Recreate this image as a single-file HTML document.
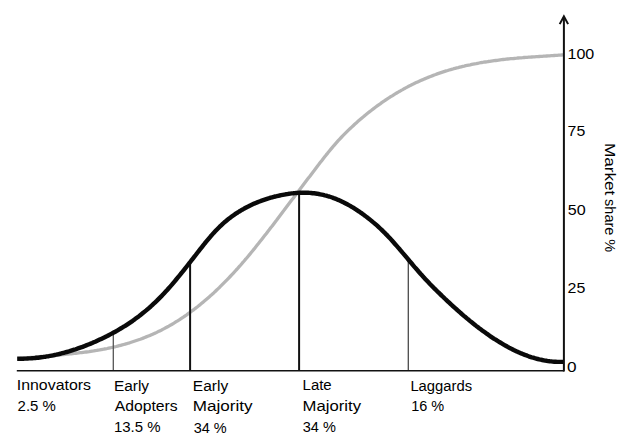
<!DOCTYPE html>
<html><head><meta charset="utf-8"><style>
html,body{margin:0;padding:0;background:#fff;}
body{width:640px;height:447px;position:relative;overflow:hidden;}
svg{position:absolute;left:0;top:0;}
text{font-family:"Liberation Sans",sans-serif;font-size:15.5px;fill:#000;}
</style></head><body>
<svg width="640" height="447" viewBox="0 0 640 447">
<path d="M17.2,358.8 L18.7,358.6 L20.2,358.5 L21.7,358.3 L23.2,358.2 L24.7,358.0 L26.2,357.9 L27.7,357.7 L29.2,357.6 L30.7,357.4 L32.2,357.3 L33.7,357.2 L35.2,357.0 L36.7,356.9 L38.2,356.8 L39.7,356.6 L41.2,356.5 L42.7,356.4 L44.2,356.2 L45.7,356.1 L47.2,356.0 L48.7,355.9 L50.2,355.7 L51.7,355.6 L53.2,355.5 L54.7,355.3 L56.2,355.2 L57.7,355.1 L59.2,354.9 L60.7,354.8 L62.2,354.7 L63.7,354.5 L65.2,354.4 L66.7,354.2 L68.2,354.1 L69.7,353.9 L71.2,353.8 L72.7,353.6 L74.2,353.4 L75.7,353.3 L77.2,353.1 L78.7,352.9 L80.2,352.7 L81.7,352.6 L83.2,352.4 L84.7,352.2 L86.2,352.0 L87.7,351.8 L89.2,351.6 L90.7,351.3 L92.2,351.1 L93.7,350.9 L95.2,350.6 L96.7,350.4 L98.2,350.1 L99.7,349.9 L101.2,349.6 L102.7,349.3 L104.2,349.0 L105.7,348.8 L107.2,348.5 L108.7,348.1 L110.2,347.8 L111.7,347.5 L113.2,347.2 L114.7,346.8 L116.2,346.5 L117.7,346.1 L119.2,345.7 L120.7,345.3 L122.2,344.9 L123.7,344.5 L125.2,344.1 L126.7,343.7 L128.2,343.2 L129.7,342.8 L131.2,342.3 L132.7,341.8 L134.2,341.3 L135.7,340.8 L137.2,340.3 L138.7,339.8 L140.2,339.3 L141.7,338.7 L143.2,338.1 L144.7,337.5 L146.2,336.9 L147.7,336.3 L149.2,335.7 L150.7,335.1 L152.2,334.4 L153.7,333.7 L155.2,333.1 L156.7,332.4 L158.2,331.6 L159.7,330.9 L161.2,330.2 L162.7,329.4 L164.2,328.6 L165.7,327.8 L167.2,327.0 L168.7,326.2 L170.2,325.3 L171.7,324.5 L173.2,323.6 L174.7,322.7 L176.2,321.7 L177.7,320.8 L179.2,319.9 L180.7,318.9 L182.2,317.9 L183.7,316.9 L185.2,315.8 L186.7,314.8 L188.2,313.7 L189.7,312.7 L191.2,311.5 L192.7,310.4 L194.2,309.3 L195.7,308.1 L197.2,307.0 L198.7,305.8 L200.2,304.6 L201.7,303.3 L203.2,302.1 L204.7,300.8 L206.2,299.5 L207.7,298.2 L209.2,296.9 L210.7,295.6 L212.2,294.2 L213.7,292.9 L215.2,291.5 L216.7,290.0 L218.2,288.6 L219.7,287.2 L221.2,285.7 L222.7,284.2 L224.2,282.7 L225.7,281.2 L227.2,279.7 L228.7,278.1 L230.2,276.5 L231.7,274.9 L233.2,273.3 L234.7,271.7 L236.2,270.0 L237.7,268.4 L239.2,266.7 L240.7,265.0 L242.2,263.2 L243.7,261.5 L245.2,259.7 L246.7,258.0 L248.2,256.2 L249.7,254.4 L251.2,252.5 L252.7,250.7 L254.2,248.9 L255.7,247.0 L257.2,245.1 L258.7,243.2 L260.2,241.3 L261.7,239.4 L263.2,237.5 L264.7,235.6 L266.2,233.7 L267.7,231.7 L269.2,229.8 L270.7,227.8 L272.2,225.9 L273.7,223.9 L275.2,221.9 L276.7,220.0 L278.2,218.0 L279.7,216.0 L281.2,214.0 L282.7,212.0 L284.2,210.1 L285.7,208.1 L287.2,206.1 L288.7,204.1 L290.2,202.1 L291.7,200.1 L293.2,198.2 L294.7,196.2 L296.2,194.2 L297.7,192.2 L299.2,190.2 L300.7,188.2 L302.2,186.3 L303.7,184.3 L305.2,182.3 L306.7,180.3 L308.2,178.3 L309.7,176.4 L311.2,174.4 L312.7,172.4 L314.2,170.5 L315.7,168.5 L317.2,166.5 L318.7,164.6 L320.2,162.6 L321.7,160.7 L323.2,158.7 L324.7,156.8 L326.2,154.9 L327.7,153.1 L329.2,151.2 L330.7,149.4 L332.2,147.6 L333.7,145.8 L335.2,144.1 L336.7,142.4 L338.2,140.7 L339.7,139.1 L341.2,137.5 L342.7,135.9 L344.2,134.4 L345.7,132.9 L347.2,131.4 L348.7,129.9 L350.2,128.5 L351.7,127.1 L353.2,125.7 L354.7,124.3 L356.2,123.0 L357.7,121.6 L359.2,120.3 L360.7,119.0 L362.2,117.7 L363.7,116.5 L365.2,115.2 L366.7,114.0 L368.2,112.8 L369.7,111.6 L371.2,110.5 L372.7,109.3 L374.2,108.2 L375.7,107.0 L377.2,105.9 L378.7,104.8 L380.2,103.8 L381.7,102.7 L383.2,101.7 L384.7,100.7 L386.2,99.6 L387.7,98.6 L389.2,97.7 L390.7,96.7 L392.2,95.8 L393.7,94.8 L395.2,93.9 L396.7,93.0 L398.2,92.1 L399.7,91.3 L401.2,90.4 L402.7,89.6 L404.2,88.7 L405.7,87.9 L407.2,87.1 L408.7,86.3 L410.2,85.6 L411.7,84.8 L413.2,84.1 L414.7,83.3 L416.2,82.6 L417.7,81.9 L419.2,81.2 L420.7,80.5 L422.2,79.9 L423.7,79.2 L425.2,78.6 L426.7,78.0 L428.2,77.4 L429.7,76.8 L431.2,76.2 L432.7,75.6 L434.2,75.0 L435.7,74.5 L437.2,73.9 L438.7,73.4 L440.2,72.9 L441.7,72.4 L443.2,71.9 L444.7,71.4 L446.2,70.9 L447.7,70.5 L449.2,70.0 L450.7,69.6 L452.2,69.2 L453.7,68.7 L455.2,68.3 L456.7,67.9 L458.2,67.6 L459.7,67.2 L461.2,66.8 L462.7,66.4 L464.2,66.1 L465.7,65.7 L467.2,65.4 L468.7,65.1 L470.2,64.8 L471.7,64.4 L473.2,64.1 L474.7,63.8 L476.2,63.6 L477.7,63.3 L479.2,63.0 L480.7,62.7 L482.2,62.5 L483.7,62.2 L485.2,62.0 L486.7,61.8 L488.2,61.5 L489.7,61.3 L491.2,61.1 L492.7,60.9 L494.2,60.7 L495.7,60.5 L497.2,60.3 L498.7,60.1 L500.2,59.9 L501.7,59.7 L503.2,59.5 L504.7,59.4 L506.2,59.2 L507.7,59.0 L509.2,58.9 L510.7,58.7 L512.2,58.6 L513.7,58.5 L515.2,58.3 L516.7,58.2 L518.2,58.0 L519.7,57.9 L521.2,57.8 L522.7,57.7 L524.2,57.5 L525.7,57.4 L527.2,57.3 L528.7,57.2 L530.2,57.1 L531.7,57.0 L533.2,56.9 L534.7,56.8 L536.2,56.7 L537.7,56.6 L539.2,56.5 L540.7,56.4 L542.2,56.3 L543.7,56.2 L545.2,56.1 L546.7,56.0 L548.2,55.9 L549.7,55.8 L551.2,55.7 L552.7,55.6 L554.2,55.5 L555.7,55.4 L557.2,55.3 L558.7,55.2 L560.2,55.1 L561.7,55.0 L563.2,54.9 L563.6,54.9" fill="none" stroke="#b5b5b5" stroke-width="3.3" stroke-linejoin="round" stroke-linecap="butt"/>
<line x1="113.3" y1="332.7" x2="113.3" y2="370" stroke="#555" stroke-width="1.3"/>
<line x1="408.3" y1="259.5" x2="408.3" y2="370" stroke="#4a4a4a" stroke-width="1.3"/>
<line x1="190.1" y1="262.2" x2="190.1" y2="370" stroke="#111" stroke-width="2"/>
<line x1="299.1" y1="192.8" x2="299.1" y2="370" stroke="#111" stroke-width="2"/>
<path d="M17.2,358.7 L18.7,358.7 L20.2,358.7 L21.7,358.7 L23.2,358.7 L24.7,358.6 L26.2,358.6 L27.7,358.5 L29.2,358.4 L30.7,358.4 L32.2,358.2 L33.7,358.1 L35.2,358.0 L36.7,357.8 L38.2,357.7 L39.7,357.5 L41.2,357.3 L42.7,357.1 L44.2,356.9 L45.7,356.7 L47.2,356.4 L48.7,356.2 L50.2,355.9 L51.7,355.6 L53.2,355.3 L54.7,355.0 L56.2,354.7 L57.7,354.3 L59.2,354.0 L60.7,353.6 L62.2,353.2 L63.7,352.8 L65.2,352.4 L66.7,352.0 L68.2,351.6 L69.7,351.2 L71.2,350.7 L72.7,350.2 L74.2,349.7 L75.7,349.3 L77.2,348.7 L78.7,348.2 L80.2,347.7 L81.7,347.2 L83.2,346.6 L84.7,346.0 L86.2,345.4 L87.7,344.8 L89.2,344.2 L90.7,343.6 L92.2,343.0 L93.7,342.3 L95.2,341.7 L96.7,341.0 L98.2,340.3 L99.7,339.6 L101.2,338.9 L102.7,338.2 L104.2,337.5 L105.7,336.7 L107.2,336.0 L108.7,335.2 L110.2,334.4 L111.7,333.6 L113.2,332.8 L114.7,332.0 L116.2,331.2 L117.7,330.3 L119.2,329.4 L120.7,328.5 L122.2,327.6 L123.7,326.7 L125.2,325.8 L126.7,324.8 L128.2,323.8 L129.7,322.8 L131.2,321.8 L132.7,320.8 L134.2,319.7 L135.7,318.6 L137.2,317.5 L138.7,316.4 L140.2,315.2 L141.7,314.0 L143.2,312.8 L144.7,311.6 L146.2,310.4 L147.7,309.1 L149.2,307.8 L150.7,306.5 L152.2,305.1 L153.7,303.7 L155.2,302.3 L156.7,300.9 L158.2,299.4 L159.7,297.9 L161.2,296.4 L162.7,294.8 L164.2,293.2 L165.7,291.6 L167.2,290.0 L168.7,288.3 L170.2,286.6 L171.7,284.9 L173.2,283.1 L174.7,281.3 L176.2,279.5 L177.7,277.7 L179.2,275.9 L180.7,274.0 L182.2,272.2 L183.7,270.3 L185.2,268.4 L186.7,266.5 L188.2,264.6 L189.7,262.7 L191.2,260.7 L192.7,258.8 L194.2,256.9 L195.7,255.0 L197.2,253.0 L198.7,251.1 L200.2,249.2 L201.7,247.3 L203.2,245.4 L204.7,243.5 L206.2,241.7 L207.7,239.9 L209.2,238.1 L210.7,236.3 L212.2,234.6 L213.7,232.9 L215.2,231.3 L216.7,229.7 L218.2,228.2 L219.7,226.7 L221.2,225.3 L222.7,223.9 L224.2,222.5 L225.7,221.3 L227.2,220.0 L228.7,218.8 L230.2,217.7 L231.7,216.6 L233.2,215.5 L234.7,214.4 L236.2,213.4 L237.7,212.5 L239.2,211.5 L240.7,210.6 L242.2,209.7 L243.7,208.9 L245.2,208.0 L246.7,207.2 L248.2,206.5 L249.7,205.7 L251.2,205.0 L252.7,204.3 L254.2,203.6 L255.7,203.0 L257.2,202.4 L258.7,201.8 L260.2,201.2 L261.7,200.6 L263.2,200.1 L264.7,199.6 L266.2,199.1 L267.7,198.6 L269.2,198.2 L270.7,197.7 L272.2,197.3 L273.7,196.9 L275.2,196.5 L276.7,196.2 L278.2,195.8 L279.7,195.5 L281.2,195.2 L282.7,194.9 L284.2,194.6 L285.7,194.3 L287.2,194.1 L288.7,193.8 L290.2,193.6 L291.7,193.4 L293.2,193.3 L294.7,193.1 L296.2,193.0 L297.7,192.9 L299.2,192.8 L300.7,192.8 L302.2,192.7 L303.7,192.7 L305.2,192.7 L306.7,192.8 L308.2,192.8 L309.7,192.9 L311.2,193.0 L312.7,193.2 L314.2,193.3 L315.7,193.5 L317.2,193.7 L318.7,194.0 L320.2,194.3 L321.7,194.6 L323.2,194.9 L324.7,195.3 L326.2,195.6 L327.7,196.1 L329.2,196.5 L330.7,197.0 L332.2,197.5 L333.7,198.1 L335.2,198.6 L336.7,199.2 L338.2,199.9 L339.7,200.5 L341.2,201.2 L342.7,201.9 L344.2,202.7 L345.7,203.5 L347.2,204.3 L348.7,205.1 L350.2,205.9 L351.7,206.8 L353.2,207.7 L354.7,208.7 L356.2,209.6 L357.7,210.6 L359.2,211.6 L360.7,212.7 L362.2,213.7 L363.7,214.8 L365.2,215.9 L366.7,217.1 L368.2,218.2 L369.7,219.4 L371.2,220.6 L372.7,221.9 L374.2,223.1 L375.7,224.4 L377.2,225.7 L378.7,227.1 L380.2,228.5 L381.7,229.9 L383.2,231.4 L384.7,232.8 L386.2,234.4 L387.7,235.9 L389.2,237.5 L390.7,239.1 L392.2,240.8 L393.7,242.5 L395.2,244.2 L396.7,245.9 L398.2,247.6 L399.7,249.3 L401.2,251.1 L402.7,252.9 L404.2,254.6 L405.7,256.4 L407.2,258.2 L408.7,260.0 L410.2,261.8 L411.7,263.5 L413.2,265.3 L414.7,267.1 L416.2,268.8 L417.7,270.5 L419.2,272.3 L420.7,274.0 L422.2,275.6 L423.7,277.3 L425.2,278.9 L426.7,280.5 L428.2,282.1 L429.7,283.7 L431.2,285.2 L432.7,286.7 L434.2,288.3 L435.7,289.7 L437.2,291.2 L438.7,292.7 L440.2,294.1 L441.7,295.6 L443.2,297.0 L444.7,298.5 L446.2,299.9 L447.7,301.3 L449.2,302.7 L450.7,304.1 L452.2,305.5 L453.7,306.8 L455.2,308.2 L456.7,309.5 L458.2,310.8 L459.7,312.2 L461.2,313.5 L462.7,314.8 L464.2,316.1 L465.7,317.3 L467.2,318.6 L468.7,319.8 L470.2,321.1 L471.7,322.3 L473.2,323.5 L474.7,324.7 L476.2,325.9 L477.7,327.0 L479.2,328.2 L480.7,329.3 L482.2,330.4 L483.7,331.5 L485.2,332.6 L486.7,333.7 L488.2,334.7 L489.7,335.8 L491.2,336.8 L492.7,337.8 L494.2,338.8 L495.7,339.7 L497.2,340.7 L498.7,341.6 L500.2,342.5 L501.7,343.4 L503.2,344.3 L504.7,345.2 L506.2,346.0 L507.7,346.9 L509.2,347.7 L510.7,348.4 L512.2,349.2 L513.7,350.0 L515.2,350.7 L516.7,351.4 L518.2,352.1 L519.7,352.7 L521.2,353.4 L522.7,354.0 L524.2,354.6 L525.7,355.2 L527.2,355.7 L528.7,356.3 L530.2,356.8 L531.7,357.3 L533.2,357.7 L534.7,358.2 L536.2,358.6 L537.7,359.0 L539.2,359.4 L540.7,359.7 L542.2,360.0 L543.7,360.3 L545.2,360.6 L546.7,360.8 L548.2,361.1 L549.7,361.3 L551.2,361.4 L552.7,361.6 L554.2,361.7 L555.7,361.8 L557.2,361.9 L558.7,361.9 L560.2,361.9 L561.7,361.9 L563.2,361.9 L563.6,361.9" fill="none" stroke="#0a0a0a" stroke-width="4.4" stroke-linejoin="round" stroke-linecap="butt"/>
<line x1="16.8" y1="370.7" x2="564" y2="370.7" stroke="#111" stroke-width="1.6"/>
<line x1="563.9" y1="17" x2="563.9" y2="371.5" stroke="#111" stroke-width="2"/>
<polyline points="559.7,24.1 563.9,16.3 568.1,24.1" fill="none" stroke="#111" stroke-width="2" stroke-linejoin="miter"/>
<text x="16.75" y="390.30" textLength="74.26" lengthAdjust="spacingAndGlyphs">Innovators</text>
<text x="17.55" y="410.80" textLength="38.30" lengthAdjust="spacingAndGlyphs">2.5 %</text>
<text x="113.96" y="390.75" textLength="35.10" lengthAdjust="spacingAndGlyphs">Early</text>
<text x="114.76" y="411.40" textLength="62.92" lengthAdjust="spacingAndGlyphs">Adopters</text>
<text x="113.96" y="432.25" textLength="46.60" lengthAdjust="spacingAndGlyphs">13.5 %</text>
<text x="192.84" y="390.70" textLength="35.34" lengthAdjust="spacingAndGlyphs">Early</text>
<text x="192.84" y="411.35" textLength="59.78" lengthAdjust="spacingAndGlyphs">Majority</text>
<text x="193.76" y="432.50" textLength="32.98" lengthAdjust="spacingAndGlyphs">34 %</text>
<text x="302.58" y="390.25" textLength="29.10" lengthAdjust="spacingAndGlyphs">Late</text>
<text x="302.58" y="411.35" textLength="58.42" lengthAdjust="spacingAndGlyphs">Majority</text>
<text x="302.76" y="432.20" textLength="33.10" lengthAdjust="spacingAndGlyphs">34 %</text>
<text x="410.40" y="390.50" textLength="61.72" lengthAdjust="spacingAndGlyphs">Laggards</text>
<text x="411.20" y="410.90" textLength="32.98" lengthAdjust="spacingAndGlyphs">16 %</text>
<text x="567.52" y="58.65" textLength="26.78" lengthAdjust="spacingAndGlyphs">100</text>
<text x="567.64" y="136.30" textLength="17.66" lengthAdjust="spacingAndGlyphs">75</text>
<text x="567.70" y="215.35" textLength="17.92" lengthAdjust="spacingAndGlyphs">50</text>
<text x="567.52" y="293.25" textLength="17.78" lengthAdjust="spacingAndGlyphs">25</text>
<text x="567.08" y="371.85" textLength="9.54" lengthAdjust="spacingAndGlyphs">0</text>
<text transform="translate(604.50,142.90) rotate(90)" x="0" y="0" textLength="52.50" lengthAdjust="spacingAndGlyphs">Market</text>
<text transform="translate(604.90,199.10) rotate(90)" x="0" y="0" textLength="53.10" lengthAdjust="spacingAndGlyphs">share %</text>
</svg>
</body></html>
